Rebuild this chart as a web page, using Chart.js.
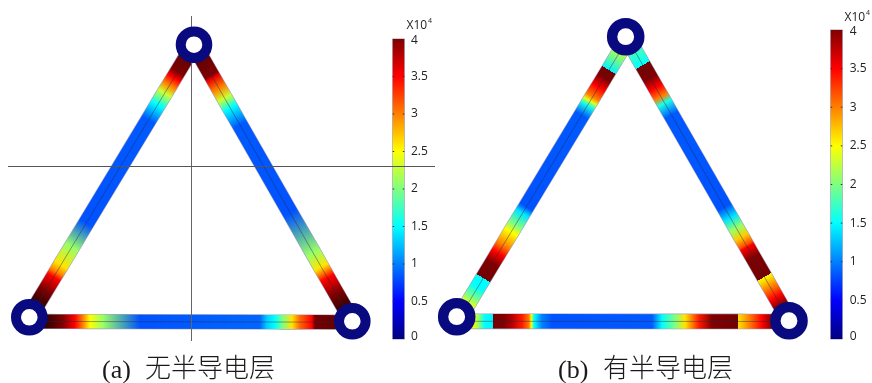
<!DOCTYPE html>
<html><head><meta charset="utf-8">
<style>html,body{margin:0;padding:0;background:#fff}canvas{display:block}</style>
<script src="https://cdn.jsdelivr.net/npm/chart.js@4"></script></head>
<body><canvas id="c" width="872" height="383"></canvas>
<script>
// ---- values: position along each member (%) and field strength (x10^4)
const aLeftPos  =[0,10,12.2,14.8,17.7,22.1,27.6,65.4,74.2,80.8,83.4,85.2,90,93.6,100];
const aLeftVal  =[4.4,4,3.5,3,2.3,1.5,.85,.82,2.1,2.6,3,3.5,4,4.5,4.6];
const aRightPos =[0,11,12,15.7,19.3,22.9,29,60.8,75.3,80.4,82.2,84.3,89.8,94,100];
const aRightVal =[4.4,4,3.6,3,2.3,1.5,.85,.82,2.1,2.6,3,3.5,4,4.5,4.6];
const aBottomPos=[0,5.5,10.4,14.1,16.6,18.8,22.8,34.3,71.4,73.5,76,78.5,81.3,83.8,87.5,88.4,100];
const aBottomVal=[4.6,4.6,4,3.5,3,2.5,2.1,.82,.9,1.3,1.5,2,2.6,3.1,3.5,4.1,4.3];
const bLeftPos  =[0,4.75,11.9,11.9,14.75,18,21.5,23,24.4,28,60.8,63,67.2,69.8,74.4,77.3,80.9,86.2,86.2,89.4,93,95.9,100];
const bLeftVal  =[2.6,2.3,1.45,4.1,4,3.5,3,2.4,1.6,.85,.82,1.4,2,2.5,3,3.5,4,4.1,1.5,1.5,2,2.5,2.7];
const bRightPos =[0,6.4,10,10,14.5,18,21.2,23.3,27.6,60,63.8,67.4,70.6,73.4,74,77.6,84.6,84.6,88.2,91.7,94.5,100];
const bRightVal =[1.9,1.7,1.5,4.1,4,3.5,3,1.6,.85,.82,1.4,2.1,2.7,3.2,3.5,4,4.1,2.5,3,3.5,4,4];
const bBottomPos=[0,5.5,8.5,10.9,10.9,14.2,16.6,19.7,21.8,22.4,23.3,25.7,28.7,58.8,61.8,65.7,68.7,70.8,72.9,76.8,84.6,84.6,88,91.9,94.9,100];
const bBottomVal=[2.6,2.4,1.5,1.45,4.1,4,3.8,3.4,3,2.5,1.5,1,.82,.85,1.5,2,2.6,3,3.4,4,4.1,2.6,3,3.5,4,4];
const colorbarStations=[0,.5,1.5,2.5,3.5,4];
const tickValues=[0,.5,1,1.5,2,2.5,3,3.5,4];
const tickLabels=['0','0.5','1','1.5','2','2.5','3','3.5','4'];
const captionLatin=['(a)','(b)'];
const captionCJK=['无半导电层','有半导电层'];
const unitBase='X10', unitExp='4';

// ---- geometry in the hidden x/y scales
const aTop=[194,44.7],aL=[29.3,317.3],aR=[352.3,321.3];
const bTop=[625.7,36.7],bL=[456.7,316.7],bR=[789,320.7];
const members=[
 {from:aTop,to:aL,pos:aLeftPos,val:aLeftVal,w:15.6},
 {from:aTop,to:aR,pos:aRightPos,val:aRightVal,w:15.6},
 {from:[29.3,321.4],to:[352.3,322.2],pos:aBottomPos,val:aBottomVal,w:14},
 {from:[629,36.7],to:[460,316.7],pos:bLeftPos,val:bLeftVal,w:15.6},
 {from:[626.5,36.7],to:[789.5,320.7],pos:bRightPos,val:bRightVal,w:15.6},
 {from:[456.7,321.3],to:[789,321.5],pos:bBottomPos,val:bBottomVal,w:14.5}
];

// colour map: jet, with a darker tail above the top of the bar
const mapV=[0,.5,1.5,2.5,3.5,4,4.8];
const mapC=[[0,0,128],[0,0,255],[0,255,255],[255,255,0],[255,0,0],[128,0,0],[30,0,0]];
function jet(v){
  let i=0; while(i<mapV.length-2&&v>mapV[i+1])i++;
  const f=Math.max(0,Math.min(1,(v-mapV[i])/(mapV[i+1]-mapV[i])));
  const c=mapC[i].map((a,k)=>Math.round(a+(mapC[i+1][k]-a)*f));
  return `rgb(${c[0]},${c[1]},${c[2]})`;
}
function gradient(ctx,yId,a,b,pos,val){
  const s=ctx.chart.scales; if(!s||!s.x||!s[yId])return '#000';
  const x0=s.x.getPixelForValue(a[0]),y0=s[yId].getPixelForValue(a[1]);
  const x1=s.x.getPixelForValue(b[0]),y1=s[yId].getPixelForValue(b[1]);
  if(![x0,y0,x1,y1].every(isFinite))return '#000';
  const g=ctx.chart.ctx.createLinearGradient(x0,y0,x1,y1);
  pos.forEach((p,i)=>g.addColorStop(p/100,jet(val[i])));
  return g;
}
const base={showLine:true,pointRadius:0,pointHoverRadius:0,tension:0,borderCapStyle:'butt',fill:false};
const datasets=[];
// rings
[[[aTop,aL,aR],13.3,10],[[bTop,bL,bR],13.6,10.4]].forEach(([n,r,bw])=>datasets.push({
  data:n.map(p=>({x:p[0],y:p[1]})),showLine:false,pointRadius:r,pointBorderWidth:bw,
  pointBackgroundColor:'#fff',pointBorderColor:'#0a0a80',order:0}));
// crosshair of panel a
datasets.push({...base,data:[{x:8,y:166.5},{x:435,y:166.5}],borderColor:'#555',borderWidth:1,order:1});
datasets.push({...base,data:[{x:191.5,y:16},{x:191.5,y:341}],borderColor:'#666',borderWidth:1,order:1});
// members
members.forEach(m=>{
  const pts=m.pos.map(p=>({x:m.from[0]+(m.to[0]-m.from[0])*p/100,y:m.from[1]+(m.to[1]-m.from[1])*p/100}));
  datasets.push({...base,data:pts,borderColor:'rgba(40,40,70,.55)',borderWidth:.8,order:2});
  datasets.push({...base,data:pts,borderColor:c=>gradient(c,'y',m.from,m.to,m.pos,m.val),borderWidth:m.w,order:3});
  datasets.push({...base,data:pts,borderColor:'rgba(120,120,160,.7)',borderWidth:m.w+1.2,order:4});
});
// colour bars
[['cbA',398.5],['cbB',836.5]].forEach(([id,x])=>{
  const pts=colorbarStations.map(v=>({x,y:v}));
  datasets.push({...base,yAxisID:id,data:pts,borderColor:c=>gradient(c,id,[x,0],[x,4],colorbarStations.map(v=>v*25),colorbarStations),borderWidth:11.5,order:3});
  datasets.push({...base,yAxisID:id,data:[{x,y:-.006},{x,y:4.006}],borderColor:'#a0a0b4',borderWidth:12.6,order:4});
});

const textPlugin={id:'texts',afterDatasetsDraw(chart){
  const g=chart.ctx,s=chart.scales; g.save();
  g.textBaseline='middle'; g.textAlign='left'; g.fillStyle='#222';
  [['cbA',392.7,404.3,411,406.5,26,428,20.5],['cbB',830.7,842.3,849.7,844.5,18,866,13]].forEach(([id,l,r,tx,ux,uy,ex,ey])=>{
    tickValues.forEach((v,i)=>{
      const y=s[id].getPixelForValue(v);
      g.strokeStyle='#333'; g.lineWidth=1;
      if(v>0&&v<4){g.beginPath();g.moveTo(l,y);g.lineTo(l+1.5,y);g.moveTo(r-1.5,y);g.lineTo(r,y);g.stroke();}
      g.font='12px "Open Sans"';
      g.fillText(tickLabels[i],tx,v===0?y-2:v===4?y+2:y);
    });
    g.font='12px "Open Sans"'; g.fillText(unitBase,ux,uy);
    g.font='7px "Open Sans"'; g.fillText(unitExp,ex,ey);
  });
  g.textBaseline='alphabetic'; g.fillStyle='#1a1a1a';
  [[102,145,378],[558,603,378]].forEach(([lx,cx,y],i)=>{
    g.font='26px "Liberation Serif"'; g.fillText(captionLatin[i],lx,y);
    g.font='300 26px "Noto Sans CJK SC"'; g.fillText(captionCJK[i],cx,y-1);
  });
  g.restore();
}};

new Chart(document.getElementById('c'),{
  type:'scatter',data:{datasets},plugins:[textPlugin],
  options:{responsive:false,animation:false,events:[],layout:{padding:0,autoPadding:false},
    plugins:{legend:{display:false},tooltip:{enabled:false},title:{display:false}},
    scales:{
      x:{type:'linear',display:false,min:0,max:872},
      y:{type:'linear',display:false,min:0,max:383,reverse:true},
      cbA:{type:'linear',display:false,min:-.5867,max:4.52},
      cbB:{type:'linear',display:false,min:-.5696,max:4.388}
    }}
});
</script></body></html>
